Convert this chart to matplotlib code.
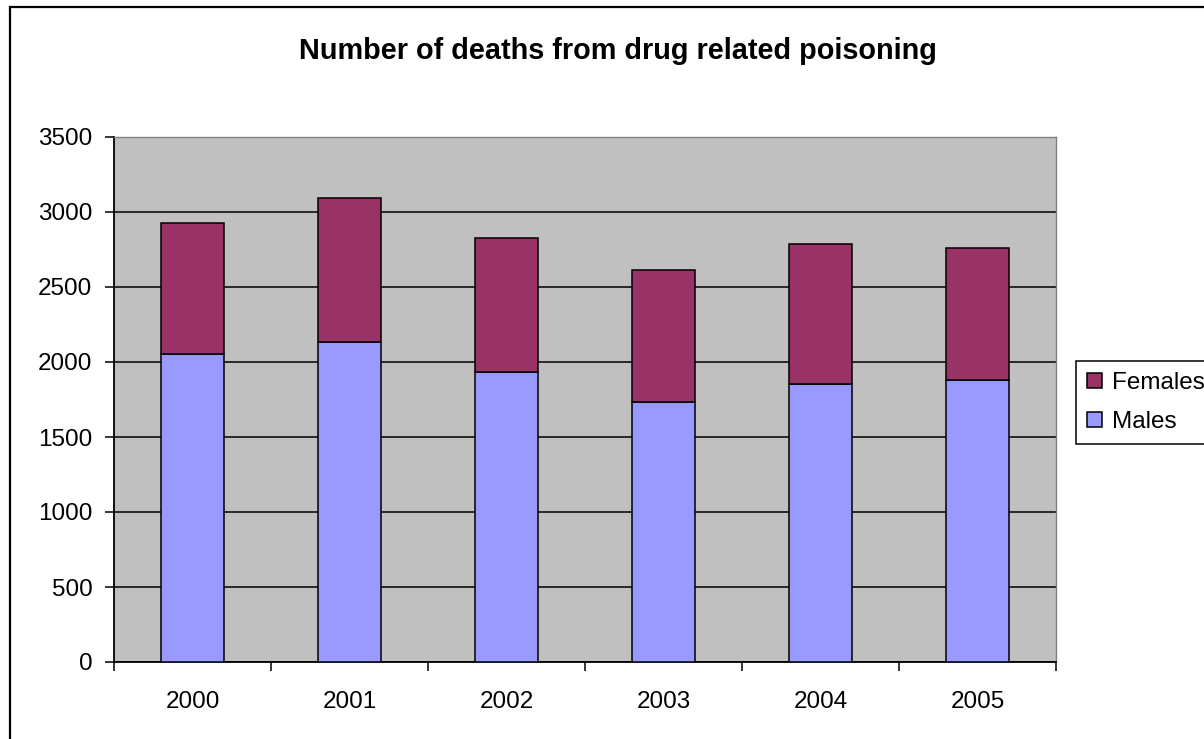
import matplotlib
matplotlib.use("Agg")
import matplotlib.pyplot as plt
from matplotlib.patches import Rectangle, Patch

# deaths from drug related poisoning, by sex
years = ["2000", "2001", "2002", "2003", "2004", "2005"]
males = [2054, 2134, 1934, 1734, 1854, 1880]
females = [870, 961, 894, 881, 934, 880]

MALE_COLOR = "#9999FF"
FEMALE_COLOR = "#993366"

plt.rcParams["font.family"] = ["Liberation Sans", "DejaVu Sans"]

W, H = 1204, 739
fig = plt.figure(figsize=(W / 100, H / 100), dpi=100)
fig.patch.set_facecolor("white")

# chart frame (runs off the right and bottom edges)
fig.add_artist(Rectangle((10 / W, -0.1), 1.2, 1.1 - 7 / H, transform=fig.transFigure,
                         fill=False, edgecolor="black", linewidth=1.6))

ax = fig.add_axes([114 / W, 1 - 662 / H, (1056 - 114) / W, (662 - 137) / H])
ax.set_facecolor("#C0C0C0")

x = list(range(len(years)))
ax.bar(x, males, width=0.4, color=MALE_COLOR, edgecolor="black", linewidth=1.1,
       zorder=3, label="Males")
ax.bar(x, females, width=0.4, bottom=males, color=FEMALE_COLOR, edgecolor="black",
       linewidth=1.1, zorder=3, label="Females")

ax.set_xlim(-0.5, len(years) - 0.5)
ax.set_ylim(0, 3500)
ax.set_yticks(range(0, 3501, 500))
ax.yaxis.grid(True, color="black", linewidth=1.1, zorder=1)
ax.set_axisbelow(True)

# category labels centred, ticks on the boundaries
ax.set_xticks(x)
ax.set_xticklabels(years)
ax.set_xticks([i - 0.5 for i in range(len(years) + 1)], minor=True)
ax.tick_params(axis="x", which="major", length=0, pad=21, labelsize=17.5)
ax.tick_params(axis="x", which="minor", length=6.5, width=1.1, direction="out")
ax.tick_params(axis="y", length=6.5, width=1.1, pad=9, labelsize=17.5)

for side in ("left", "bottom"):
    ax.spines[side].set_color("black")
    ax.spines[side].set_linewidth(1.3)
for side in ("top", "right"):
    ax.spines[side].set_color("#808080")
    ax.spines[side].set_linewidth(1.0)

fig.text(618 / W, 1 - 59 / H, "Number of deaths from drug related poisoning",
         ha="center", va="baseline", fontsize=20.8, fontweight="bold")

handles = [Patch(facecolor=FEMALE_COLOR, edgecolor="black", linewidth=1.1, label="Females"),
           Patch(facecolor=MALE_COLOR, edgecolor="black", linewidth=1.1, label="Males")]
leg = fig.legend(handles=handles, loc="upper left", bbox_to_anchor=(1076 / W, 1 - 361 / H),
                 bbox_transform=fig.transFigure, borderaxespad=0, fontsize=17.5,
                 frameon=True, fancybox=False, edgecolor="black", framealpha=1,
                 handlelength=0.62, handleheight=0.62, handletextpad=0.4,
                 labelspacing=0.7, borderpad=0.45)
leg.get_frame().set_linewidth(1.1)

fig.savefig("out.png", dpi=100)
